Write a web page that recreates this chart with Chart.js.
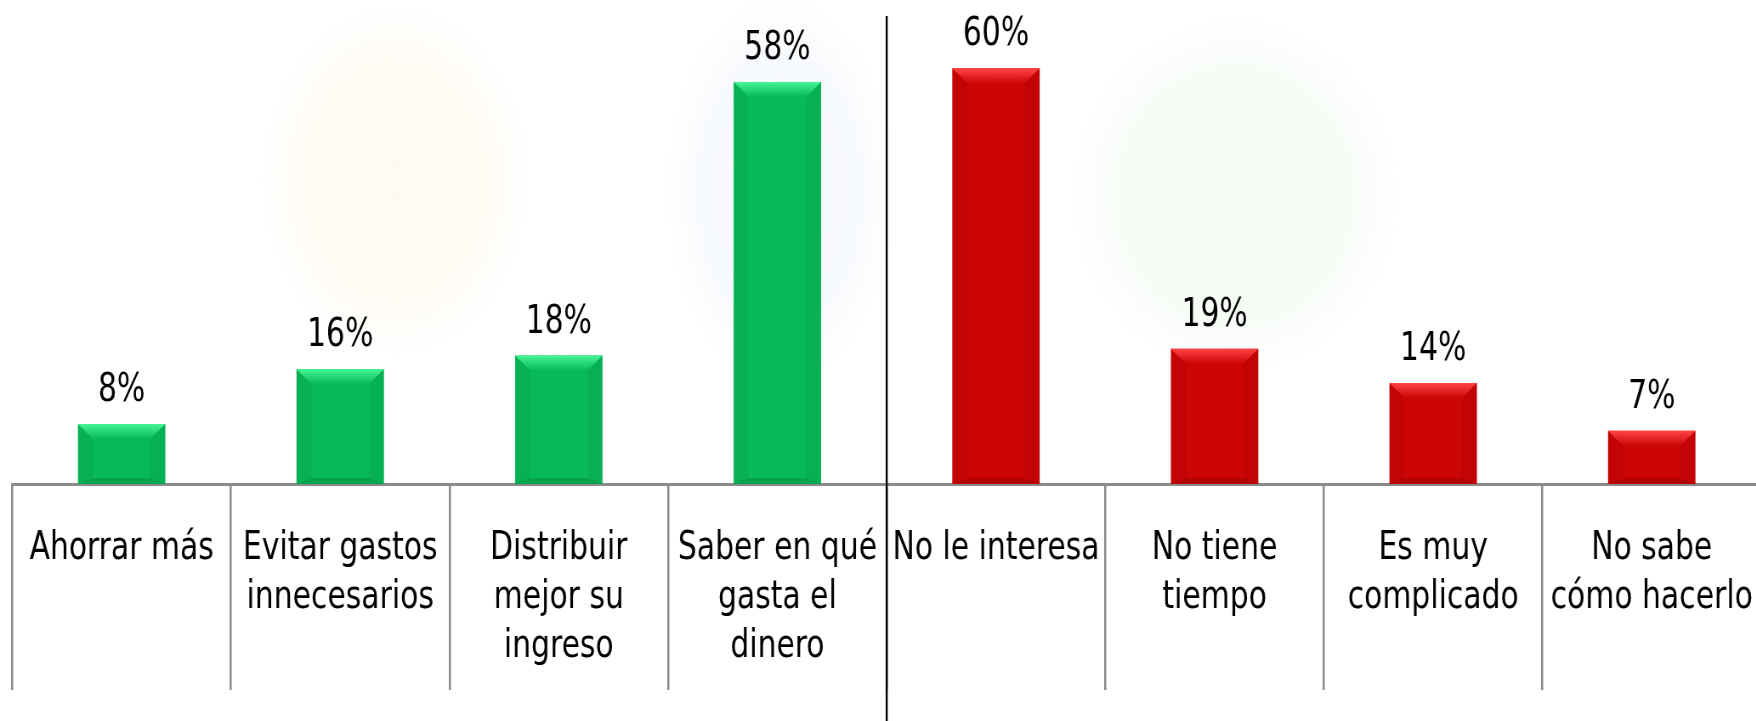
<!DOCTYPE html>
<html>
<head>
<meta charset="utf-8">
<script src="https://cdn.jsdelivr.net/npm/chart.js@4/dist/chart.umd.min.js"></script>
<style>
html,body{margin:0;padding:0;background:#fff;overflow:hidden;width:1756px;height:721px;}
#wrap{position:absolute;left:0;top:0;width:2075px;height:721px;transform:scaleX(0.85);transform-origin:0 0;}
canvas{display:block;}
</style>
</head>
<body>
<div id="wrap"><canvas id="c" width="2075" height="721"></canvas></div>
<script>
// ---- data ----
const categories = [
  ['Ahorrar más'],
  ['Evitar gastos', 'innecesarios'],
  ['Distribuir', 'mejor su', 'ingreso'],
  ['Saber en qué', 'gasta el', 'dinero'],
  ['No le interesa'],
  ['No tiene', 'tiempo'],
  ['Es muy', 'complicado'],
  ['No sabe', 'cómo hacerlo']
];
const values = [8, 16, 18, 58, 60, 19, 14, 7];
const valueLabels = ['8%', '16%', '18%', '58%', '60%', '19%', '14%', '7%'];
const barColors = ['#08B957', '#08B957', '#08B957', '#08B957', '#CC0505', '#CC0505', '#CC0505', '#CC0505'];
const bevelColors = ['#45F596', '#45F596', '#45F596', '#45F596', '#FF4545', '#FF4545', '#FF4545', '#FF4545'];

const SX = 0.85;           // horizontal condensing of the whole drawing
const FONT = '"DejaVu Sans Condensed", "DejaVu Sans", sans-serif';
const Y_MIN = -0.79, Y_MAX = 70;

const watermark = {
  id: 'watermark',
  beforeDraw(chart) {
    const ctx = chart.ctx;
    const blobs = [
      {cx: 395, cy: 180, rx: 135, ry: 175, c: '250,205,130'},
      {cx: 780, cy: 190, rx: 115, ry: 195, c: '160,190,230'},
      {cx: 1235, cy: 195, rx: 165, ry: 178, c: '160,215,150'}
    ];
    ctx.save();
    for (const b of blobs) {
      ctx.save();
      ctx.translate(b.cx / SX, b.cy);
      ctx.scale(b.rx / SX / b.ry, 1);
      const g = ctx.createRadialGradient(0, 0, 0, 0, 0, b.ry);
      g.addColorStop(0, `rgba(${b.c},0.09)`);
      g.addColorStop(0.7, `rgba(${b.c},0.08)`);
      g.addColorStop(1, `rgba(${b.c},0)`);
      ctx.fillStyle = g;
      ctx.beginPath();
      ctx.arc(0, 0, b.ry, 0, Math.PI * 2);
      ctx.fill();
      ctx.restore();
    }
    ctx.restore();
  }
};

const decor = {
  id: 'decor',
  afterDatasetsDraw(chart) {
    const ctx = chart.ctx;
    const meta = chart.getDatasetMeta(0);
    ctx.save();
    meta.data.forEach((bar, i) => {
      const {x, y, base, width} = bar.getProps(['x', 'y', 'base', 'width'], true);
      const l = x - width / 2, r = x + width / 2;
      const bh = Math.min(15, (base - y) / 3);
      const bx = bh / SX;
      // top bevel
      const g = ctx.createLinearGradient(0, y, 0, y + bh);
      g.addColorStop(0, bevelColors[i]);
      g.addColorStop(1, barColors[i]);
      ctx.fillStyle = g;
      ctx.beginPath();
      ctx.moveTo(l, y); ctx.lineTo(r, y); ctx.lineTo(r - bx, y + bh); ctx.lineTo(l + bx, y + bh); ctx.closePath();
      ctx.fill();
      // side and bottom shading
      ctx.fillStyle = 'rgba(0,0,0,0.045)';
      ctx.beginPath();
      ctx.moveTo(r, y); ctx.lineTo(r - bx, y + bh); ctx.lineTo(r - bx, base - 6); ctx.lineTo(r, base); ctx.closePath();
      ctx.fill();
      ctx.beginPath();
      ctx.moveTo(l, y); ctx.lineTo(l + bx, y + bh); ctx.lineTo(l + bx, base - 6); ctx.lineTo(l, base); ctx.closePath();
      ctx.fill();
      ctx.fillStyle = 'rgba(0,0,0,0.12)';
      ctx.beginPath();
      ctx.moveTo(l, base); ctx.lineTo(l + bx, base - 6); ctx.lineTo(r - bx, base - 6); ctx.lineTo(r, base); ctx.closePath();
      ctx.fill();
      // value label
      ctx.fillStyle = '#000';
      ctx.font = '39px ' + FONT;
      ctx.textAlign = 'center';
      ctx.textBaseline = 'alphabetic';
      ctx.fillText(valueLabels[i], x, y - 23);
    });
    // separator between the two groups
    const xs = chart.scales.x;
    const sepX = (xs.getPixelForValue(3) + xs.getPixelForValue(4)) / 2;
    ctx.strokeStyle = '#000';
    ctx.lineWidth = 2 / SX;
    ctx.beginPath();
    ctx.moveTo(sepX, chart.chartArea.top + 16);
    ctx.lineTo(sepX, chart.height);
    ctx.stroke();
    ctx.restore();
  }
};

new Chart(document.getElementById('c'), {
  type: 'bar',
  data: {
    labels: categories,
    datasets: [{
      data: values,
      backgroundColor: barColors,
      borderWidth: 0,
      base: Y_MIN,
      barPercentage: 0.4,
      categoryPercentage: 1
    }]
  },
  plugins: [watermark, decor],
  options: {
    responsive: false,
    devicePixelRatio: 1,
    animation: false,
    layout: {padding: {left: 14.5, right: 3.2, top: 0, bottom: 0}},
    plugins: {legend: {display: false}, tooltip: {enabled: false}},
    scales: {
      y: {display: false, min: Y_MIN, max: Y_MAX},
      x: {
        afterFit(scale) { scale.height = 237; },
        grid: {
          display: true, drawOnChartArea: false, drawTicks: true,
          tickLength: 206, color: '#8a8a8a', lineWidth: 2.5, offset: true
        },
        border: {display: true, color: '#8a8a8a', width: 3},
        ticks: {
          autoSkip: false, maxRotation: 0, minRotation: 0,
          color: '#000', padding: -165.5,
          font: {family: FONT, size: 39, lineHeight: '49px'}
        }
      }
    }
  }
});
</script>
</body>
</html>
